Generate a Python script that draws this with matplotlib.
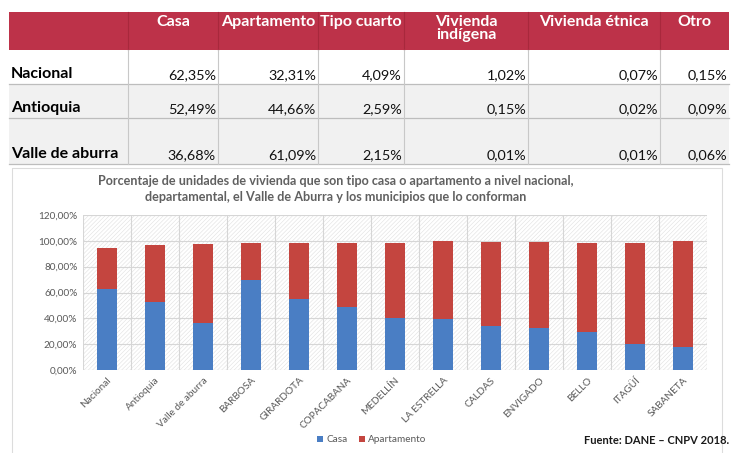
import matplotlib
matplotlib.use("Agg")
import matplotlib.pyplot as plt
from matplotlib.patches import Rectangle
import numpy as np

# ---------------- data ----------------
table_cols = ["Casa", "Apartamento", "Tipo cuarto", "Vivienda\nindígena", "Vivienda étnica", "Otro"]
table_rows = ["Nacional", "Antioquia", "Valle de aburra"]
table_vals = [
    ["62,35%", "32,31%", "4,09%", "1,02%", "0,07%", "0,15%"],
    ["52,49%", "44,66%", "2,59%", "0,15%", "0,02%", "0,09%"],
    ["36,68%", "61,09%", "2,15%", "0,01%", "0,01%", "0,06%"],
]

categories = ["Nacional", "Antioquia", "Valle de aburra", "BARBOSA", "GIRARDOTA",
              "COPACABANA", "MEDELLÍN", "LA ESTRELLA", "CALDAS", "ENVIGADO",
              "BELLO", "ITAGÜÍ", "SABANETA"]
casa = [62.35, 52.49, 36.68, 70.0, 55.0, 48.5, 40.5, 39.3, 34.0, 32.3, 29.2, 19.8, 17.9]
apartamento = [32.31, 44.66, 61.09, 28.7, 43.6, 49.9, 57.5, 60.4, 65.0, 67.0, 69.3, 78.7, 82.1]
yticks = [0, 20, 40, 60, 80, 100, 120]
ytick_labels = ["0,00%", "20,00%", "40,00%", "60,00%", "80,00%", "100,00%", "120,00%"]

title = ("Porcentaje de unidades de vivienda que son tipo casa o apartamento a nivel nacional,\n"
         "departamental, el Valle de Aburra y los municipios que lo conforman")
source = "Fuente: DANE – CNPV 2018."

# ---------------- style ----------------
W, H = 731, 453
FONT = "Lato"
BLUE = "#4a7ec4"
RED = "#c4453f"
HEAD = "#bd3249"
plt.rcParams["font.family"] = [FONT, "DejaVu Sans"]
plt.rcParams["hatch.linewidth"] = 0.4

fig = plt.figure(figsize=(W / 100, H / 100), dpi=100)
fig.patch.set_facecolor("white")

# overlay axes in pixel coordinates for table and texts
ov = fig.add_axes([0, 0, 1, 1])
ov.set_xlim(0, W)
ov.set_ylim(H, 0)
ov.axis("off")

# ---- table ----
col_edges = [9, 128, 218, 318, 404, 528, 660, 729]
row_edges = [12, 50, 84, 118, 164]
# header
ov.add_patch(Rectangle((col_edges[0], row_edges[0]), col_edges[-1] - col_edges[0],
                       row_edges[1] - row_edges[0], facecolor=HEAD, edgecolor="none"))
for i, c in enumerate(table_cols):
    x0, x1 = col_edges[i + 1], col_edges[i + 2]
    ov.text((x0 + x1) / 2, row_edges[0] + 3, c, ha="center", va="top", color="white",
            fontsize=11.5, fontweight="bold", linespacing=0.9)
# body
for r, name in enumerate(table_rows):
    y0, y1 = row_edges[r + 1], row_edges[r + 2]
    fc = "white" if r == 0 else "#f1f1f1"
    ov.add_patch(Rectangle((col_edges[0], y0), col_edges[-1] - col_edges[0], y1 - y0,
                           facecolor=fc, edgecolor="none"))
    ov.text(col_edges[0] + 2, y1 - 3, name, ha="left", va="bottom", color="black",
            fontsize=11.5, fontweight="bold")
    for c, v in enumerate(table_vals[r]):
        ov.text(col_edges[c + 2] - 2, y1 - 3, v, ha="right", va="bottom", color="#111111",
                fontsize=10.4)
    ov.plot([col_edges[0], col_edges[-1]], [y1, y1], color="#bdbdbd", lw=0.9)
for x in col_edges[1:-1]:
    ov.plot([x, x], [row_edges[0], row_edges[1]], color="#a8283c", lw=0.8)
    ov.plot([x, x], [row_edges[1], row_edges[-1]], color="#c8c8c8", lw=0.8)

# chart frame
ov.add_patch(Rectangle((12, 168), 710, 290, facecolor="none", edgecolor="#dcdcdc", lw=0.8))

# chart title
ov.text(336, 189, title, ha="center", va="center", color="#606060", fontsize=9.1,
        fontweight="bold", linespacing=1.35)

# source
ov.text(729, 440, source, ha="right", va="center", color="#1a1a1a", fontsize=8,
        fontweight="bold")

# ---------------- bar chart ----------------
L, R, T, B = 83, 707, 215, 370
ax = fig.add_axes([L / W, (H - B) / H, (R - L) / W, (B - T) / H])
x = np.arange(len(categories))
ax.set_xlim(-0.5, len(categories) - 0.5)
ax.set_ylim(0, 120)
bg = Rectangle((-0.5, 0), len(categories), 120, facecolor="white", edgecolor="#e0e0e0",
               hatch="////////", lw=0, zorder=0)
ax.add_patch(bg)
for yy in yticks:
    ax.axhline(yy, color="#d6d6d6", lw=0.8, zorder=1)
for xx in np.arange(-0.5, len(categories), 1.0):
    ax.axvline(xx, color="#d6d6d6", lw=0.8, zorder=1)

ax.bar(x, casa, width=0.4, color=BLUE, label="Casa", zorder=3)
ax.bar(x, apartamento, width=0.4, bottom=casa, color=RED, label="Apartamento", zorder=3)

ax.set_yticks(yticks)
ax.set_yticklabels(ytick_labels, fontsize=7.2, color="#595959")
ax.set_xticks(x)
ax.set_xticklabels(categories, rotation=45, ha="right", rotation_mode="anchor",
                   fontsize=7.2, color="#595959")
ax.tick_params(axis="both", length=0, pad=4)
for s in ax.spines.values():
    s.set_visible(False)

leg = fig.legend(loc="center", bbox_to_anchor=(372 / W, 1 - 440 / H), ncol=2, frameon=False,
                 fontsize=7.2, handlelength=0.6, handleheight=0.6, handletextpad=0.3,
                 columnspacing=1.2)
for t in leg.get_texts():
    t.set_color("#595959")

fig.savefig("out.png", dpi=100, facecolor="white")
